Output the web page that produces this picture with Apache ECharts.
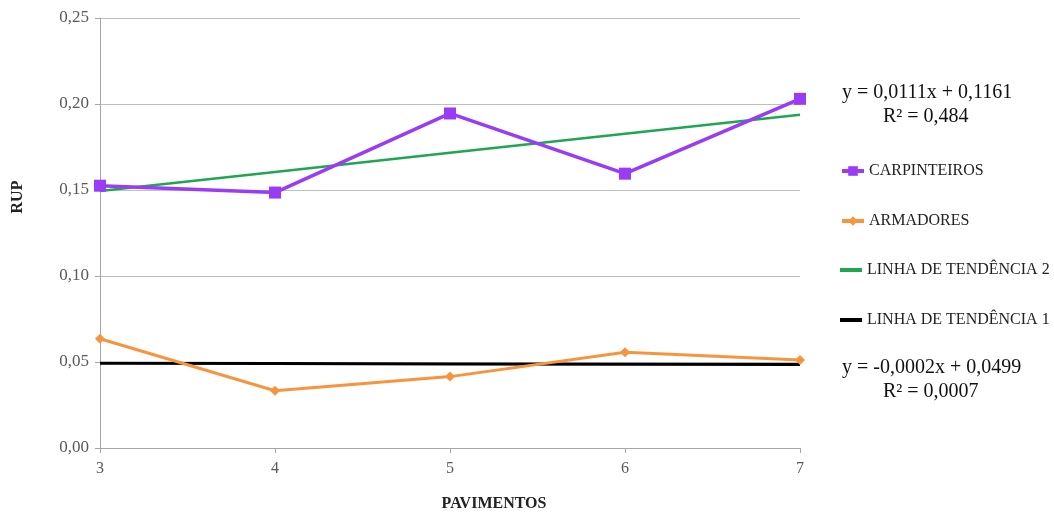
<!DOCTYPE html>
<html><head><meta charset="utf-8">
<script src="https://cdn.jsdelivr.net/npm/echarts@6/dist/echarts.min.js"></script>
<style>html,body{margin:0;padding:0;background:#fff}#c{width:1054px;height:513px}</style>
</head><body><div id="c"></div>
<script>
const categories = ['3','4','5','6','7'];
const carpinteiros = [0.1525, 0.1485, 0.1945, 0.1595, 0.2030];
const armadores = [0.0635, 0.0333, 0.0415, 0.0557, 0.0512];
const tendencia2 = [0.1494, 0.1605, 0.1716, 0.1827, 0.1938];
const tendencia1 = [0.0493, 0.0491, 0.0489, 0.0487, 0.0485];
const yTicks = [0, 0.05, 0.10, 0.15, 0.20, 0.25];
const eq2 = ['y = 0,0111x + 0,1161', 'R² = 0,484'];
const eq1 = ['y = -0,0002x + 0,0499', 'R² = 0,0007'];

const serif = '"Liberation Serif", "DejaVu Serif", serif';
const chart = echarts.init(document.getElementById('c'));
chart.setOption({
  animation: false,
  backgroundColor: '#fff',
  grid: {left: 100, right: 254, top: 18, bottom: 65},
  xAxis: {
    type: 'category', data: categories, boundaryGap: false,
    axisLine: {lineStyle: {color: '#a6a6a6'}},
    axisTick: {show: true, alignWithLabel: true, length: 5, lineStyle: {color: '#a6a6a6'}},
    axisLabel: {fontFamily: serif, fontSize: 16, color: '#595959', margin: 13},
    splitLine: {show: false}
  },
  yAxis: {
    type: 'value', min: yTicks[0], max: yTicks[yTicks.length-1], interval: 0.05,
    axisLine: {show: true, lineStyle: {color: '#a6a6a6'}},
    axisTick: {show: true, length: 5, lineStyle: {color: '#a6a6a6'}},
    axisLabel: {fontFamily: serif, fontSize: 17, color: '#595959', margin: 11,
      formatter: v => v.toFixed(2).replace('.', ',')},
    splitLine: {show: true, lineStyle: {color: '#bfbfbf', width: 1}}
  },
  legend: [
    {
      orient: 'vertical', left: 840, top: 163, padding: 0, itemGap: 34, itemWidth: 22, itemHeight: 12,
      lineStyle: {width: 4},
      textStyle: {fontFamily: serif, fontSize: 16, color: '#222'},
      data: ['CARPINTEIROS', 'ARMADORES']
    },
    {
      orient: 'vertical', left: 840, top: 262, padding: 0, itemGap: 34, itemWidth: 22, itemHeight: 4,
      icon: 'rect',
      textStyle: {fontFamily: serif, fontSize: 16, color: '#222'},
      data: ['LINHA DE TENDÊNCIA 2', 'LINHA DE TENDÊNCIA 1']
    }
  ],
  series: [
    {name: 'LINHA DE TENDÊNCIA 1', type: 'line', data: tendencia1, symbol: 'none',
      lineStyle: {color: '#000', width: 3}, itemStyle: {color: '#000'}, z: 1},
    {name: 'LINHA DE TENDÊNCIA 2', type: 'line', data: tendencia2, symbol: 'none',
      lineStyle: {color: '#1fa650', width: 2.5}, itemStyle: {color: '#1fa650'}, z: 1},
    {name: 'CARPINTEIROS', type: 'line', data: carpinteiros, symbol: 'rect', symbolSize: 12,
      lineStyle: {color: '#9a3cf6', width: 3.5}, itemStyle: {color: '#9a3cf6'}, z: 3},
    {name: 'ARMADORES', type: 'line', data: armadores, symbol: 'diamond', symbolSize: 10,
      lineStyle: {color: '#f7953f', width: 3}, itemStyle: {color: '#f7953f'}, z: 3}
  ],
  graphic: [
    {type: 'text', x: 842, y: 93, style: {text: eq2[0], font: '20px ' + serif, fill: '#111', textVerticalAlign: 'middle'}},
    {type: 'text', x: 883, y: 117, style: {text: eq2[1], font: '20px ' + serif, fill: '#111', textVerticalAlign: 'middle'}},
    {type: 'text', x: 842, y: 368, style: {text: eq1[0], font: '20px ' + serif, fill: '#111', textVerticalAlign: 'middle'}},
    {type: 'text', x: 883, y: 392, style: {text: eq1[1], font: '20px ' + serif, fill: '#111', textVerticalAlign: 'middle'}},
    {type: 'text', x: 494, y: 504, style: {text: 'PAVIMENTOS', font: 'bold 16px ' + serif, fill: '#222', textAlign: 'center', textVerticalAlign: 'middle'}},
    {type: 'text', x: 18, y: 197, rotation: Math.PI / 2, style: {text: 'RUP', font: 'bold 16px ' + serif, fill: '#222', textAlign: 'center', textVerticalAlign: 'middle'}}
  ]
});
</script></body></html>
